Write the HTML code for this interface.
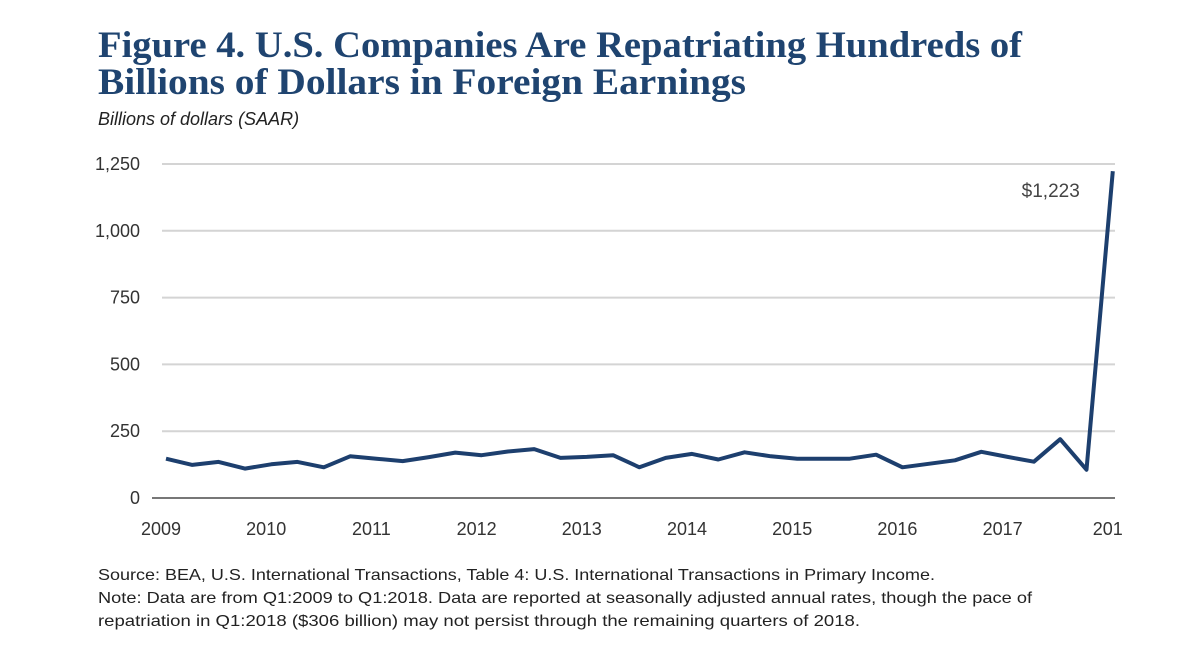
<!DOCTYPE html>
<html><head><meta charset="utf-8"><style>
html,body{margin:0;padding:0;background:#fff;width:1200px;height:672px;overflow:hidden}
svg{display:block}
</style></head><body>
<svg id="chart" width="1200" height="672" viewBox="0 0 1200 672">
<text x="98" y="57" font-family="Liberation Serif, serif" font-weight="bold" font-size="37" fill="#1f4470" textLength="924" lengthAdjust="spacingAndGlyphs">Figure 4. U.S. Companies Are Repatriating Hundreds of</text>
<text x="98" y="94" font-family="Liberation Serif, serif" font-weight="bold" font-size="37" fill="#1f4470" textLength="648" lengthAdjust="spacingAndGlyphs">Billions of Dollars in Foreign Earnings</text>
<text x="98" y="125" font-family="Liberation Sans, sans-serif" font-style="italic" font-size="18" fill="#222">Billions of dollars (SAAR)</text>
<g id="grid"></g>
<g id="yt"></g>
<g id="xt"></g>
<path id="line" fill="none" stroke="#1d3f6e" stroke-width="4" stroke-linejoin="round"/>
<text id="lbl" font-family="Liberation Sans, sans-serif" font-size="19" fill="#444" text-anchor="end"></text>
<g font-family="Liberation Sans, sans-serif" font-size="16" fill="#222">
<text x="98" y="580" textLength="837" lengthAdjust="spacingAndGlyphs">Source: BEA, U.S. International Transactions, Table 4: U.S. International Transactions in Primary Income.</text>
<text x="98" y="603" textLength="934" lengthAdjust="spacingAndGlyphs">Note: Data are from Q1:2009 to Q1:2018. Data are reported at seasonally adjusted annual rates, though the pace of</text>
<text x="98" y="626" textLength="762" lengthAdjust="spacingAndGlyphs">repatriation in Q1:2018 ($306 billion) may not persist through the remaining quarters of 2018.</text>
</g>
</svg>
<script>
const values = [147,124,135,110,126,135,115,156,147,138,153,170,160,174,183,150,154,160,115,150,165,144,171,156,147,147,147,162,115,128,141,173,154,136,220,106,1223];
const yTicks = [0,250,500,750,1000,1250];
const yTickLabels = ["0","250","500","750","1,000","1,250"];
const xYears = ["2009","2010","2011","2012","2013","2014","2015","2016","2017","201"];
const peakLabel = "$1,223";
const NS="http://www.w3.org/2000/svg";
const x0=166, dx=26.3, right=1115;
const xs=i=>x0+i*dx;
const ys=v=>498-v*(334/1250);
const grid=document.getElementById('grid'), yt=document.getElementById('yt'), xt=document.getElementById('xt');
yTicks.forEach((t,i)=>{
  const l=document.createElementNS(NS,'line');
  
  
  l.setAttribute('x1',t===0?152:162);l.setAttribute('x2',right);
  l.setAttribute('y1',ys(t));l.setAttribute('y2',ys(t));
  l.setAttribute('stroke',t===0?'#777':'#d4d4d4');l.setAttribute('stroke-width',2);
  grid.appendChild(l);
  const tx=document.createElementNS(NS,'text');
  
  
  tx.setAttribute('x',140);tx.setAttribute('y',ys(t)+6);
  tx.setAttribute('text-anchor','end');tx.setAttribute('font-family','Liberation Sans, sans-serif');
  tx.setAttribute('font-size','18');tx.setAttribute('fill','#333');
  tx.textContent=yTickLabels[i];yt.appendChild(tx);
});
xYears.forEach((y,i)=>{
  const tx=document.createElementNS(NS,'text');
  
  
  tx.setAttribute('x',xs(i*4)-5);tx.setAttribute('y',535);
  tx.setAttribute('text-anchor','middle');tx.setAttribute('font-family','Liberation Sans, sans-serif');
  tx.setAttribute('font-size','18');tx.setAttribute('fill','#333');
  tx.textContent=y;xt.appendChild(tx);
});
document.getElementById('line').setAttribute('d',values.map((v,i)=>(i?'L':'M')+xs(i).toFixed(1)+','+ys(v).toFixed(1)).join(''));
const lb=document.getElementById('lbl');
lb.setAttribute('x',xs(values.length-1)-33);lb.setAttribute('y',ys(values[values.length-1])+26);
lb.textContent=peakLabel;
</script>
</body></html>
